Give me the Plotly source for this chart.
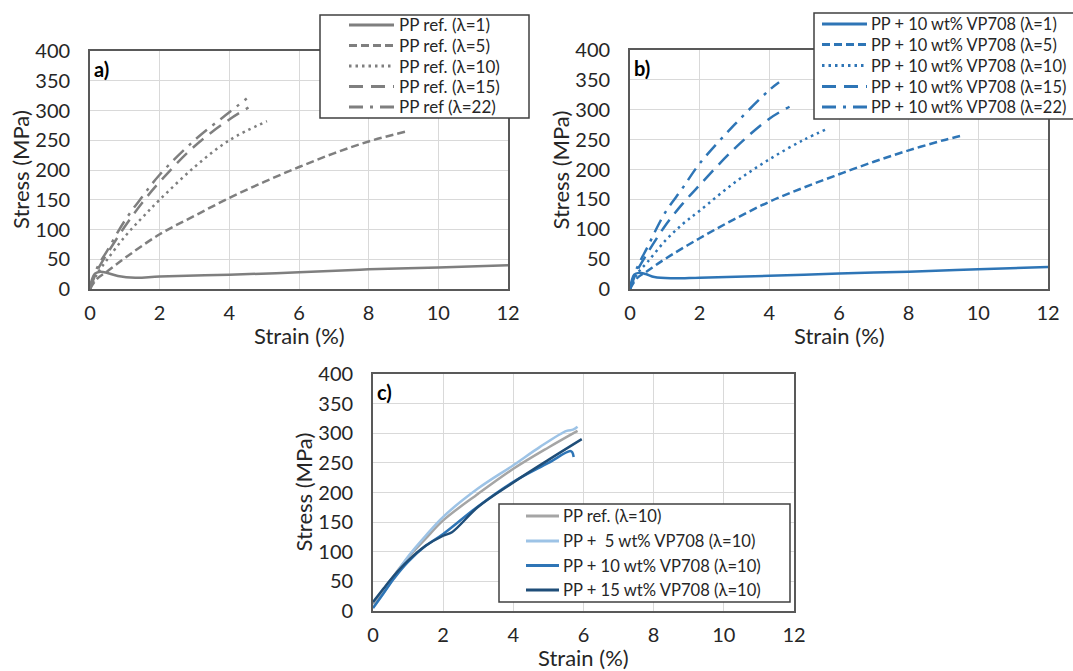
import plotly.graph_objects as go

# ---------------- data ----------------
# Panel a) PP ref.
a_names = ["PP ref. (λ=1)", "PP ref. (λ=5)", "PP ref. (λ=10)", "PP ref. (λ=15)", "PP ref (λ=22)"]
a_l1_x = [0, 0.05, 0.15, 0.3, 0.5, 0.8, 1.3, 2, 4, 6, 8, 10, 12]
a_l1_y = [0, 15, 26, 29, 27, 22, 19, 21, 24, 28, 33, 36, 40]
a_l5_x = [0, 0.2, 0.5, 1, 2, 3, 4, 5, 6, 7, 8, 9.1]
a_l5_y = [0, 17, 30, 52, 92, 123, 153, 180, 205, 228, 248, 265]
a_l10_x = [0, 0.2, 0.5, 1, 1.5, 2, 3, 4, 5.08]
a_l10_y = [0, 25, 50, 88, 120, 150, 205, 250, 282]
a_l15_x = [0, 0.2, 0.5, 1, 1.5, 2, 3, 4, 4.55]
a_l15_y = [0, 30, 60, 105, 145, 180, 240, 285, 305]
a_l22_x = [0, 0.2, 0.5, 1, 1.5, 2, 3, 4, 4.5]
a_l22_y = [0, 35, 65, 115, 155, 192, 250, 297, 320]

# Panel b) PP + 10 wt% VP708
b_names = ["PP + 10 wt% VP708 (λ=1)", "PP + 10 wt% VP708 (λ=5)", "PP + 10 wt% VP708 (λ=10)",
           "PP + 10 wt% VP708 (λ=15)", "PP + 10 wt% VP708 (λ=22)"]
b_l1_x = [0, 0.05, 0.12, 0.25, 0.45, 0.7, 1.2, 2, 4, 6, 8, 10, 12]
b_l1_y = [0, 14, 24, 27, 25, 20, 18, 19, 22, 26, 29, 33, 37]
b_l5_x = [0, 0.2, 0.5, 1, 2, 3, 4, 5, 6, 7, 8, 9, 9.55]
b_l5_y = [0, 18, 30, 50, 85, 117, 146, 170, 192, 213, 232, 249, 257]
b_l10_x = [0, 0.2, 0.5, 1, 1.5, 2, 3, 4, 5, 5.7]
b_l10_y = [0, 25, 45, 80, 108, 131, 178, 217, 250, 269]
b_l15_x = [0, 0.2, 0.5, 1, 1.5, 2, 3, 4, 4.58]
b_l15_y = [0, 30, 60, 105, 142, 174, 235, 285, 305]
b_l22_x = [0, 0.2, 0.5, 1, 1.5, 2, 3, 4, 4.28]
b_l22_y = [0, 35, 70, 127, 168, 210, 275, 333, 346]

# Panel c) λ=10 comparison
c_names = ["PP ref. (λ=10)", "PP +  5 wt% VP708 (λ=10)", "PP + 10 wt% VP708 (λ=10)", "PP + 15 wt% VP708 (λ=10)"]
c_ref_x = [0, 0.3, 0.6, 1, 1.5, 2, 3, 4, 5, 5.83]
c_ref_y = [12, 35, 60, 90, 122, 153, 198, 240, 276, 304]
c_5_x = [0, 0.3, 0.6, 1, 1.5, 2, 3, 4, 4.76, 5.52, 5.7, 5.83]
c_5_y = [5, 30, 58, 92, 127, 159, 207, 246, 277, 304, 306, 311]
c_10_x = [0, 0.3, 0.6, 1, 1.5, 2, 3, 4, 5, 5.62, 5.68, 5.72]
c_10_y = [5, 30, 55, 83, 110, 130, 177, 218, 250, 270, 268, 260]
c_15_x = [0, 0.3, 0.6, 1, 1.5, 2, 2.25, 3, 4, 5, 5.95]
c_15_y = [15, 38, 60, 85, 110, 127, 133, 176, 217, 255, 290]

x_ticks = [0, 2, 4, 6, 8, 10, 12]
y_ticks = [0, 50, 100, 150, 200, 250, 300, 350, 400]

# ---------------- styling ----------------
FONT = "Lato"
W, H = 1073, 671
GREY = "#7f7f7f"
BLUE = "#2e75b6"
dashes = ["solid", "8px,4px", "2.5px,4px", "14px,8px", "14px,7px,3px,7px"]
LW = 2.5

fig = go.Figure()

a_data = [(a_l1_x, a_l1_y), (a_l5_x, a_l5_y), (a_l10_x, a_l10_y), (a_l15_x, a_l15_y), (a_l22_x, a_l22_y)]
for (x, y), n, d in zip(a_data, a_names, dashes):
    fig.add_trace(go.Scatter(x=x, y=y, name=n, mode="lines", showlegend=False,
                             line=dict(color=GREY, width=LW, dash=d, shape="spline"),
                             xaxis="x", yaxis="y"))

b_data = [(b_l1_x, b_l1_y), (b_l5_x, b_l5_y), (b_l10_x, b_l10_y), (b_l15_x, b_l15_y), (b_l22_x, b_l22_y)]
for (x, y), n, d in zip(b_data, b_names, dashes):
    fig.add_trace(go.Scatter(x=x, y=y, name=n, mode="lines", showlegend=False,
                             line=dict(color=BLUE, width=LW, dash=d, shape="spline"),
                             xaxis="x2", yaxis="y2"))

c_colors = ["#a5a5a5", "#9dc3e6", "#2e75b6", "#1f4e79"]
c_data = [(c_ref_x, c_ref_y), (c_5_x, c_5_y), (c_10_x, c_10_y), (c_15_x, c_15_y)]
for (x, y), n, col in zip(c_data, c_names, c_colors):
    fig.add_trace(go.Scatter(x=x, y=y, name=n, mode="lines", showlegend=False,
                             line=dict(color=col, width=LW, shape="spline"),
                             xaxis="x3", yaxis="y3"))


def px_x(v):
    return v / W


def px_y(v):
    return 1 - v / H


panels = {
    "": (90, 508, 51, 289),
    "2": (630, 1048, 50, 289),
    "3": (373, 794, 374, 611),
}

axis_common = dict(
    showgrid=True, gridcolor="#d9d9d9", gridwidth=1.3,
    showline=True, linecolor="#595959", linewidth=1.8, mirror=True,
    ticks="", zeroline=False, automargin=False,
    tickfont=dict(family=FONT, size=20, color="#262626"),
)

annotations = []
shapes = []
layout = dict(
    width=W, height=H,
    margin=dict(l=0, r=0, t=0, b=0),
    paper_bgcolor="white", plot_bgcolor="white",
    font=dict(family=FONT, color="#262626"),
    showlegend=False,
)

labels = {"": "a)", "2": "b)", "3": "c)"}
for k, (x0, x1, y0, y1) in panels.items():
    layout["xaxis" + k] = dict(axis_common, domain=[px_x(x0), px_x(x1)], range=[0, 12], tickvals=x_ticks,
                               anchor="y" + k, ticklabelstandoff=5)
    layout["yaxis" + k] = dict(axis_common, domain=[px_y(y1), px_y(y0)], range=[0, 400], tickvals=y_ticks,
                               anchor="x" + k, ticklabelstandoff=14)
    annotations.append(dict(text="<b>" + labels[k] + "</b>", xref="paper", yref="paper",
                            x=px_x(x0 + 2), y=px_y(y0 + 4), xanchor="left", yanchor="top",
                            showarrow=False, font=dict(family=FONT, size=20, color="#000000")))
    annotations.append(dict(text="Strain (%)", xref="paper", yref="paper",
                            x=px_x((x0 + x1) / 2), y=px_y(y1 + 46.5), xanchor="center", yanchor="middle",
                            showarrow=False, font=dict(family=FONT, size=22, color="#262626")))
    annotations.append(dict(text="Stress (MPa)", xref="paper", yref="paper",
                            x=px_x(x0 - 70), y=px_y((y0 + y1) / 2), xanchor="center", yanchor="middle",
                            textangle=-90, showarrow=False,
                            font=dict(family=FONT, size=22, color="#262626")))


def add_legend(box, line_x, text_x, rows, names, colors, dash_list, fsize):
    bx0, bx1, by0, by1 = box
    shapes.append(dict(type="rect", xref="paper", yref="paper", x0=px_x(bx0), x1=px_x(bx1),
                       y0=px_y(by1), y1=px_y(by0), line=dict(color="#404040", width=1.5),
                       fillcolor="white", layer="above"))
    for r, n, c, d in zip(rows, names, colors, dash_list):
        shapes.append(dict(type="line", xref="paper", yref="paper", x0=px_x(line_x[0]), x1=px_x(line_x[1]),
                           y0=px_y(r), y1=px_y(r), line=dict(color=c, width=LW + 0.5, dash=d), layer="above"))
        annotations.append(dict(text=n, xref="paper", yref="paper", x=px_x(text_x), y=px_y(r),
                                xanchor="left", yanchor="middle", showarrow=False,
                                font=dict(family=FONT, size=fsize, color="#262626")))


add_legend((320, 529, 15, 118), (349, 394), 397, [25, 45.5, 66, 86.5, 107], a_names, [GREY] * 5, dashes, 17)
add_legend((814, 1076, 13, 119), (822, 867), 869, [24, 44.5, 65.5, 86.5, 107], b_names, [BLUE] * 5, dashes, 16.4)
add_legend((499, 790, 504, 602), (526, 559), 561, [516, 541, 565.5, 590], c_names, c_colors, ["solid"] * 4, 16.6)

layout["annotations"] = annotations
layout["shapes"] = shapes
fig.update_layout(**layout)
fig.write_html("out.html", config={"displayModeBar": False},
               post_script="document.body.style.margin='0';document.body.style.padding='0';")
